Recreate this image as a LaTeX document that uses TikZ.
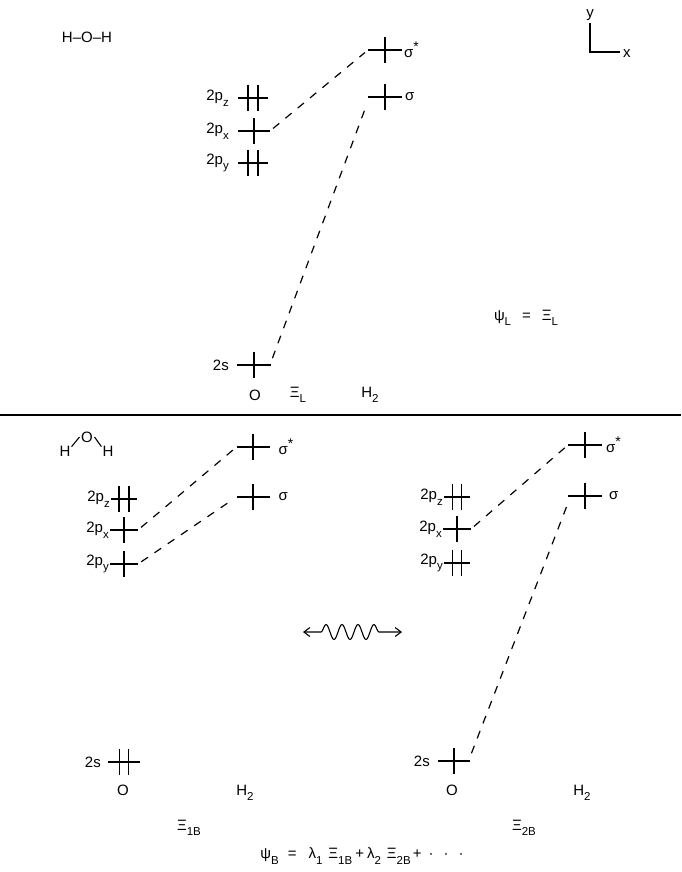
\documentclass[tikz,border=0pt]{standalone}
\usepackage{fontspec}
\setmainfont{Liberation Sans}
\usetikzlibrary{decorations.pathmorphing,arrows.meta}
\newcommand\sbx[1]{\raisebox{-0.7ex}{\fontsize{11.5}{12}\selectfont #1}}
\newcommand\spx[1]{\raisebox{0.75ex}{\fontsize{14}{14}\selectfont #1}}
\newcommand\orbS[4]{%
  \node[lvl, minimum width=#4] (#1) at (#2,#3) {};
  \draw[lev] (#1.west) -- (#1.east) (#1.north) -- (#1.south);}
\newcommand\orbD[5]{%
  \node[lvl, minimum width=#4] (#1) at (#2,#3) {};
  \draw[lev] (#1.west) -- (#1.east)
    ([xshift=-#5]#1.north) -- ([xshift=-#5]#1.south)
    ([xshift=#5]#1.north) -- ([xshift=#5]#1.south);}
\begin{document}
\begin{tikzpicture}[x=1pt,y=-1pt,
  lvl/.style={minimum height=26pt, inner sep=0pt, outer sep=0pt},
  lev/.style={line width=1.2pt},
  dsh/.style={line width=1.2pt, dash pattern=on 8pt off 8pt, shorten <=4pt, shorten >=4pt},
  txt/.style={inner sep=0pt, font=\fontsize{15}{17}\selectfont},
  lbl/.style={txt, anchor=east},
  rlb/.style={txt, anchor=west}]
\useasboundingbox (0,0) rectangle (681,872);

% ---------- top panel ----------
\node[txt] (hoh) at (87,37) {H–O–H};
\coordinate (ax0) at (590,52);
\coordinate (axy) at (590,23);
\coordinate (axx) at (620,52);
\draw[line width=1.1pt] (axy) -- (ax0) -- (axx);
\node[txt, anchor=south] (ylab) at (590,21) {y};
\node[txt, anchor=west] (xlab) at (623,54) {x};

\orbD{tpz}{253}{98}{30pt}{5pt}
\orbS{tpx}{254}{131}{32pt}
\orbD{tpy}{253}{163}{30pt}{5pt}
\orbS{tss}{385}{50}{34pt}
\orbS{ts}{385}{97}{34pt}
\orbS{tts}{254}{365}{34pt}
\node[lbl] (ltpz) at ([xshift=-9pt]tpz.west) {2p\sbx{z}};
\node[lbl] (ltpx) at ([xshift=-9pt]tpx.west) {2p\sbx{x}};
\node[lbl] (ltpy) at ([xshift=-9pt]tpy.west) {2p\sbx{y}};
\node[lbl] (ltts) at ([xshift=-8pt]tts.west) {2s};
\node[rlb] (ltss) at ([xshift=2pt]tss.east) {σ\spx{*}};
\node[rlb] (lts) at ([xshift=3pt]ts.east) {σ};
\draw[dsh] (tpx.east) -- (tss.west);
\draw[dsh] ([yshift=3pt]tts.east) -- ([yshift=-4pt]ts.west);
\node[txt] (tO) at (255,395) {O};
\node[txt] (tXi) at (298,395) {Ξ\sbx{L}};
\node[txt] (tH2) at (370,395) {H\sbx{2}};
\node[txt] (psiL) at (526,318) {ψ\sbx{L}\hspace{11pt}=\hspace{11pt}Ξ\sbx{L}};

% separator
\coordinate (sepl) at (0,415);
\coordinate (sepr) at (681,415);
\draw[line width=1.2pt] (sepl) -- (sepr);

% ---------- bottom panel ----------
\node[txt] (bH1) at (65,451) {H};
\node[txt] (bO) at (87,437) {O};
\node[txt] (bH2) at (108,451) {H};
\draw[line width=1.1pt] ([shift={(1pt,-1pt)}]bH1.north east) -- ([xshift=-1.5pt]bO.west);
\draw[line width=1.1pt] ([xshift=1.5pt]bO.east) -- ([shift={(-1pt,-1pt)}]bH2.north west);

% left diagram
\orbD{bpz}{124}{499}{26pt}{5pt}
\orbS{bpx}{124}{530}{28pt}
\orbS{bpy}{124}{564}{28pt}
\orbS{bss}{253}{447}{33pt}
\orbS{bs}{253}{497}{33pt}
\orbD{bts}{124}{762}{32pt}{4.5pt}
\node[lbl] (lbpz) at ([xshift=-1pt]bpz.west) {2p\sbx{z}};
\node[lbl] (lbpx) at ([xshift=-1pt]bpx.west) {2p\sbx{x}};
\node[lbl] (lbpy) at ([xshift=-1pt]bpy.west) {2p\sbx{y}};
\node[lbl] (lbts) at ([xshift=-7pt]bts.west) {2s};
\node[rlb] (lbss) at ([xshift=9pt]bss.east) {σ\spx{*}};
\node[rlb] (lbs) at ([xshift=9pt]bs.east) {σ};
\draw[dsh] (bpx.east) -- (bss.west);
\draw[dsh] (bpy.east) -- (bs.west);
\node[txt] (bOl) at (123,790) {O};
\node[txt] (bH2l) at (245,793) {H\sbx{2}};
\node[txt] (bXi1) at (189,828) {Ξ\sbx{1B}};

% right diagram
\orbD{rpz}{457}{497}{26pt}{4.5pt}
\orbS{rpx}{457}{529}{28pt}
\orbD{rpy}{457}{563}{26pt}{4.5pt}
\orbS{rss}{585}{445}{34pt}
\orbS{rs}{585}{496}{34pt}
\orbS{rts}{454}{761}{32pt}
\node[lbl] (lrpz) at ([xshift=-1pt]rpz.west) {2p\sbx{z}};
\node[lbl] (lrpx) at ([xshift=-1pt]rpx.west) {2p\sbx{x}};
\node[lbl] (lrpy) at ([xshift=-1pt]rpy.west) {2p\sbx{y}};
\node[lbl] (lrts) at ([xshift=-8pt]rts.west) {2s};
\node[rlb] (lrss) at ([xshift=4pt]rss.east) {σ\spx{*}};
\node[rlb] (lrs) at ([xshift=7pt]rs.east) {σ};
\draw[dsh] (rpx.east) -- (rss.west);
\draw[dsh] ([yshift=4pt]rts.east) -- ([yshift=-7pt]rs.west);
\node[txt] (rO) at (452,790) {O};
\node[txt] (rH2) at (582,793) {H\sbx{2}};
\node[txt] (rXi2) at (524,828) {Ξ\sbx{2B}};

% resonance arrow
\coordinate (wl) at (303,632);
\coordinate (wr) at (402,632);
\draw[line width=1.1pt, {Straight Barb[length=6pt,width=9pt]}-{Straight Barb[length=6pt,width=9pt]},
  decorate, decoration={snake, amplitude=7.5pt, segment length=16pt, pre length=18pt, post length=17pt}]
  (wl) -- (wr);

% psi_B
\node[txt] (psiB) at (362,856) {ψ\sbx{B}\hspace{9pt}=\hspace{12pt}λ\sbx{1}\hspace{6pt}Ξ\sbx{1B}\hspace{3pt}+\hspace{3pt}λ\sbx{2}\hspace{6pt}Ξ\sbx{2B}\hspace{2pt}+\hspace{7pt}·\hspace{10pt}·\hspace{10pt}·};
\end{tikzpicture}
\end{document}
